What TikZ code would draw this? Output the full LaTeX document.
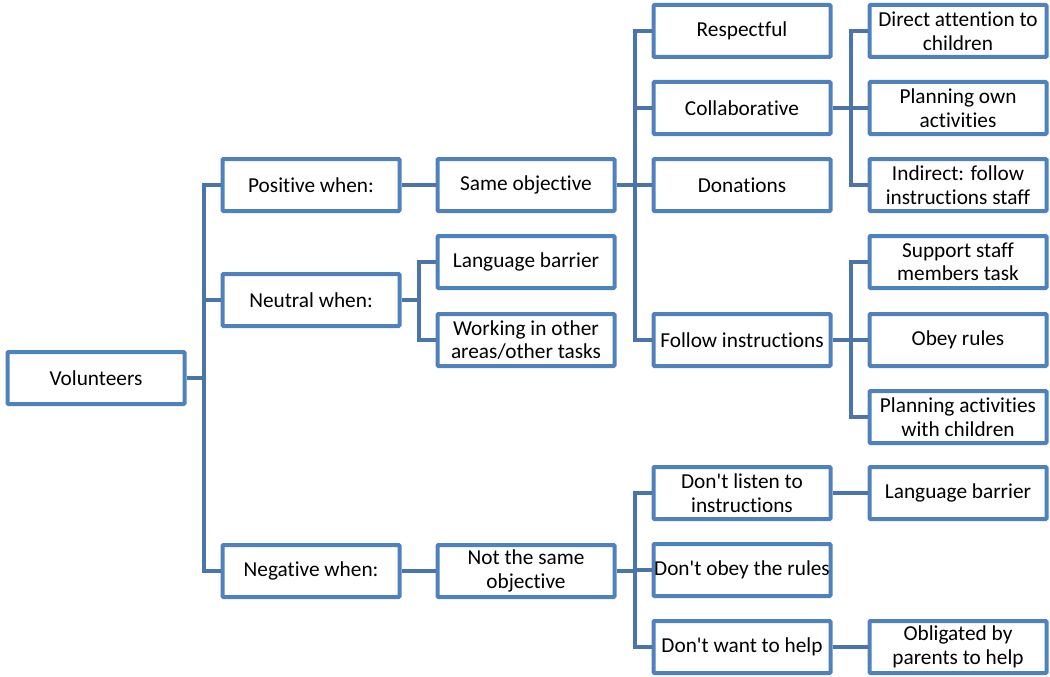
\documentclass[tikz,border=0pt]{standalone}
\usepackage{fontspec}
\setmainfont{Carlito}[Ligatures=NoCommon]
\definecolor{boxc}{HTML}{4F81BD}
\definecolor{conc}{HTML}{4A74AA}
\newcommand{\apos}{\textquotesingle}
\begin{document}
\begin{tikzpicture}[x=1pt,y=-1pt,
  bx/.style={draw=boxc, line width=4pt, fill=white, rounded corners=1pt,
    minimum width=177pt, minimum height=52pt, inner sep=0pt, align=center,
    font=\fontsize{21.3}{23.5}\selectfont},
  conn/.style={draw=conc, line width=4pt}]
\useasboundingbox (0,0) rectangle (1050,677);
% column 1
\node[bx] (vol) at (96,378) {Volunteers};
% column 2
\node[bx] (pos) at (311,185) {Positive when:};
\node[bx] (neu) at (311,300) {Neutral when:};
\node[bx] (neg) at (311,571) {Negative when:};
% column 3
\node[bx] (same) at (526,185) {Same objective};
\node[bx] (lang1) at (526,262) {Language barrier};
\node[bx] (work) at (526,340) {Working in other\\areas/other tasks};
\node[bx] (notsame) at (526,571) {Not the same\\objective};
% column 4
\node[bx] (resp) at (742,31) {Respectful};
\node[bx] (coll) at (742,108) {Collaborative};
\node[bx] (don) at (742,185) {Donations};
\node[bx] (follow) at (742,340) {Follow instructions};
\node[bx] (listen) at (742,493) {Don\apos t listen to\\instructions};
\node[bx] (obey) at (742,570) {Don\apos t obey the rules};
\node[bx] (want) at (742,647) {Don\apos t want to help};
% column 5
\node[bx] (direct) at (958,31) {Direct attention to\\children};
\node[bx] (plan) at (958,108) {Planning own\\activities};
\node[bx] (indirect) at (958,185) {Indirect: follow\\instructions staff};
\node[bx] (support) at (958,262) {Support staff\\members task};
\node[bx] (rules) at (958,340) {Obey rules};
\node[bx] (planch) at (958,417) {Planning activities\\with children};
\node[bx] (lang2) at (958,493) {Language barrier};
\node[bx] (oblig) at (958,647) {Obligated by\\parents to help};
% bus coordinates
\coordinate (b1) at (204,0);
\coordinate (b2) at (419,0);
\coordinate (b3) at (635,0);
\coordinate (b4) at (851,0);
% volunteers
\draw[conn] (vol.east) -- (vol.east -| b1);
\draw[conn] (pos.west) -| (b1 |- neg.west) -- (neg.west);
\draw[conn] (neu.west) -- (neu.west -| b1);
% positive / neutral / negative
\draw[conn] (pos.east) -- (same.west);
\draw[conn] (neu.east) -- (neu.east -| b2);
\draw[conn] (lang1.west) -| (b2 |- work.west) -- (work.west);
\draw[conn] (neg.east) -- (notsame.west);
% same objective
\draw[conn] (same.east) -- (same.east -| b3);
\draw[conn] (resp.west) -| (b3 |- follow.west) -- (follow.west);
\draw[conn] (coll.west) -- (coll.west -| b3);
\draw[conn] (don.west) -- (don.west -| b3);
% collaborative
\draw[conn] (coll.east) -- (coll.east -| b4);
\draw[conn] (direct.west) -| (b4 |- indirect.west) -- (indirect.west);
\draw[conn] (plan.west) -- (plan.west -| b4);
% follow instructions
\draw[conn] (follow.east) -- (follow.east -| b4);
\draw[conn] (support.west) -| (b4 |- planch.west) -- (planch.west);
\draw[conn] (rules.west) -- (rules.west -| b4);
% not the same objective
\draw[conn] (notsame.east) -- (notsame.east -| b3);
\draw[conn] (listen.west) -| (b3 |- want.west) -- (want.west);
\draw[conn] (obey.west) -- (obey.west -| b3);
\draw[conn] (listen.east) -- (lang2.west);
\draw[conn] (want.east) -- (oblig.west);
\end{tikzpicture}
\end{document}
